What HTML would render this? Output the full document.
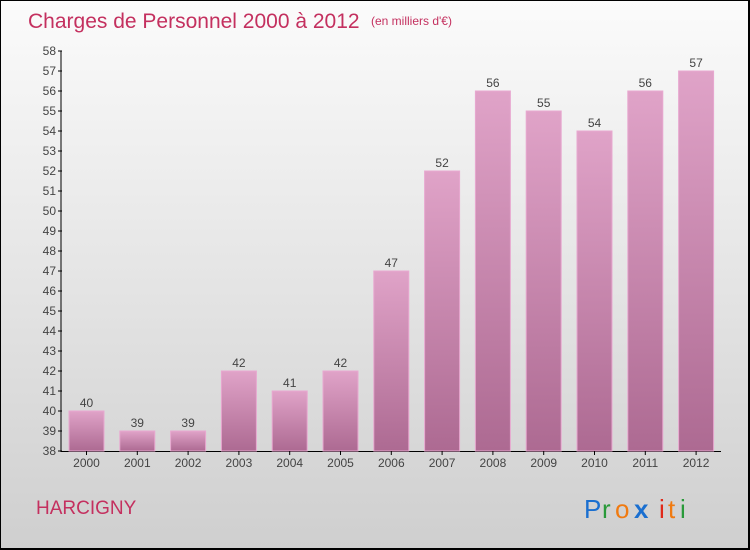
<!DOCTYPE html>
<html><head><meta charset="utf-8"><style>
body{margin:0}
#c{width:750px;height:550px;position:relative;box-sizing:border-box;border:1px solid #000;border-right-width:2px;border-bottom-width:2px;background:linear-gradient(#fbfbfb,#cfcfcf);font-family:"Liberation Sans",sans-serif;overflow:hidden}
</style></head><body>
<div id="c">
<svg width="750" height="550" style="position:absolute;left:0;top:0" id="svg">
<defs><linearGradient id="bg" x1="0" y1="0" x2="0" y2="1"><stop offset="0" stop-color="#e0a3c8"/><stop offset="1" stop-color="#ad6a92"/></linearGradient></defs>
<text x="27" y="27" font-size="21" fill="#c4305f">Charges de Personnel 2000 à 2012</text>
<text x="370" y="24" font-size="12" fill="#c4305f">(en milliers d'€)</text>
<text x="35" y="513" font-size="19" fill="#c4305f">HARCIGNY</text>
<g font-size="26">
<text x="583" y="517" fill="#1a6fd0">P</text><text x="601" y="517" fill="#2a9a3a">r</text><text x="614" y="517" fill="#f07a10">o</text><text x="633" y="517" fill="#1a6fd0" font-weight="bold">x</text><text x="658" y="517" fill="#e02a1a">i</text><text x="667" y="517" fill="#f07a10">t</text><text x="679" y="517" fill="#2a9a3a">i</text>
</g>
<g id="g"></g>
</svg>
</div>
<script>
const years=["2000","2001","2002","2003","2004","2005","2006","2007","2008","2009","2010","2011","2012"];
const values=[40,39,39,42,41,42,47,52,56,55,54,56,57];
const yTicks=[38,39,40,41,42,43,44,45,46,47,48,49,50,51,52,53,54,55,56,57,58];
const NS="http://www.w3.org/2000/svg";
const g=document.getElementById('g');
const y=v=>450-(v-38)*20;
const x=i=>85.5+i*50.8;
function mk(t,a,txt){const e=document.createElementNS(NS,t);for(const k in a)e.setAttribute(k,a[k]);if(txt!==undefined)e.textContent=txt;g.appendChild(e);return e;}
let ax=mk('line',{x1:60,y1:y(58),x2:60,y2:451,stroke:'#000'});


let bx=mk('line',{x1:60,y1:450.5,x2:720,y2:450.5,stroke:'#000'});


yTicks.forEach(v=>{
 let t=mk('line',{x1:57,x2:61,y1:y(v),y2:y(v),stroke:'#000'});
 
 
 let l=mk('text',{x:55,y:y(v)+4,'font-size':12,fill:'#444','text-anchor':'end'},v);
 
 
});
years.forEach((yr,i)=>{
 const v=values[i],cx=x(i);
 let r=mk('rect',{x:cx-17.5,y:y(v),width:35,height:450-y(v),fill:'url(#bg)',stroke:'#e8a8d0','stroke-width':1});
 
 
 let t=mk('line',{x1:cx,x2:cx,y1:450,y2:454,stroke:'#000'});
 
 
 let l=mk('text',{x:cx,y:466,'font-size':12,fill:'#444','text-anchor':'middle'},yr);
 
 
 let vl=mk('text',{x:cx,y:y(v)-4,'font-size':12,fill:'#444','text-anchor':'middle'},v);
 
 
});
</script>
</body></html>
